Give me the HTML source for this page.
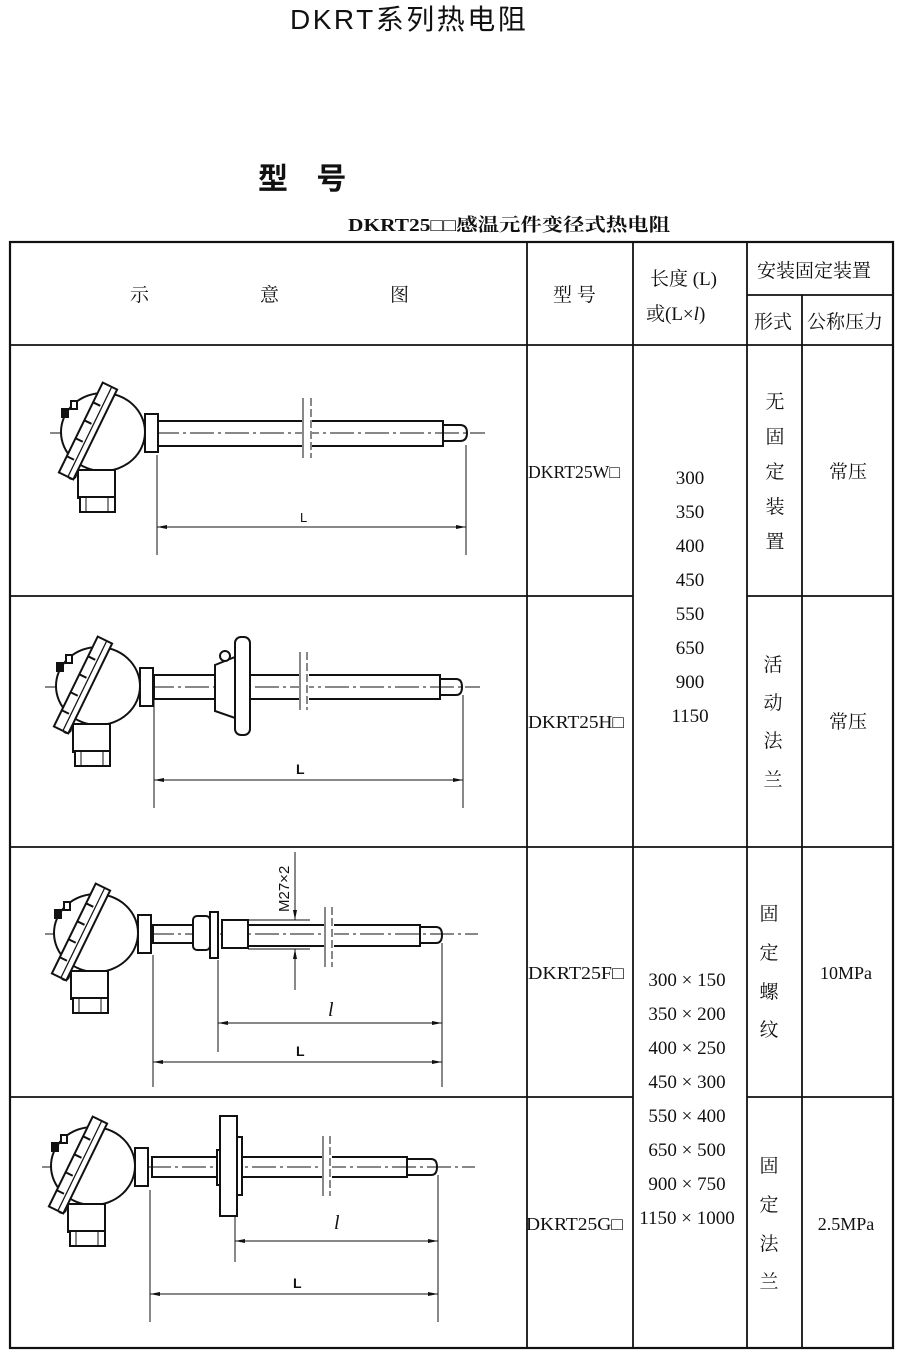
<!DOCTYPE html>
<html><head><meta charset="utf-8"><style>
body{margin:0;background:#fff;}
svg{display:block;}
text{font-family:"Liberation Serif","Noto Serif CJK SC","Noto Sans CJK SC",serif;fill:#111;}
.s{font-family:"Liberation Sans","Noto Sans CJK SC",sans-serif;}
</style></head><body>
<svg width="898" height="1359" viewBox="0 0 898 1359" xmlns="http://www.w3.org/2000/svg">
<defs>
<g id="head" stroke="#111" stroke-width="2" fill="#fff">
  <ellipse cx="103" cy="-1" rx="42" ry="39"/>
  <rect x="78" y="37" width="37" height="28"/>
  <rect x="80" y="64" width="35" height="15"/>
  <line x1="86" y1="64" x2="86" y2="79" stroke-width="1"/><line x1="108" y1="64" x2="108" y2="79" stroke-width="1"/>
  <rect x="145" y="-19" width="13" height="38"/>
  <rect x="62" y="-24" width="6" height="8" fill="#111"/>
  <rect x="71" y="-32" width="6" height="8"/>
  <circle cx="72" cy="42" r="4" fill="#111"/>
  <g transform="translate(88,-2) rotate(26)">
    <rect x="-8" y="-50" width="16" height="100"/>
    <line x1="2" y1="-50" x2="2" y2="50" stroke-width="1.2"/>
    <line x1="-8" y1="-28" x2="0" y2="-28"/><line x1="-8" y1="-8" x2="0" y2="-8"/><line x1="-8" y1="12" x2="0" y2="12"/><line x1="-8" y1="32" x2="0" y2="32"/>
  </g>
</g>
<marker id="ar" viewBox="0 0 10 4" refX="10" refY="2" markerWidth="10" markerHeight="4" orient="auto-start-reverse" markerUnits="userSpaceOnUse"><path d="M0,0L10,2L0,4z" fill="#111"/></marker>
</defs>

<text x="290" y="29" class="s" font-size="28" letter-spacing="2.5">DKRT系列热电阻</text>
<text x="258" y="189" font-size="30" font-weight="bold" class="s" letter-spacing="10">型 号</text>
<text x="348" y="231" font-size="18" font-weight="bold" textLength="322" lengthAdjust="spacingAndGlyphs">DKRT25□□感温元件变径式热电阻</text>

<g stroke="#111" fill="none">
<rect x="10" y="242" width="883" height="1106" stroke-width="2.2"/>
<line x1="527" y1="242" x2="527" y2="1348" stroke-width="1.8"/>
<line x1="633" y1="242" x2="633" y2="1348" stroke-width="1.8"/>
<line x1="747" y1="242" x2="747" y2="1348" stroke-width="1.8"/>
<line x1="802" y1="295" x2="802" y2="1348" stroke-width="1.8"/>
<line x1="747" y1="295" x2="893" y2="295" stroke-width="1.8"/>
<line x1="10" y1="345" x2="893" y2="345" stroke-width="1.8"/>
<line x1="10" y1="596" x2="633" y2="596" stroke-width="1.8"/>
<line x1="747" y1="596" x2="893" y2="596" stroke-width="1.8"/>
<line x1="10" y1="847" x2="893" y2="847" stroke-width="1.8"/>
<line x1="10" y1="1097" x2="633" y2="1097" stroke-width="1.8"/>
<line x1="747" y1="1097" x2="893" y2="1097" stroke-width="1.8"/>
</g>

<g font-size="19">
<text x="130" y="301">示</text><text x="260" y="301">意</text><text x="390" y="301">图</text>
<text x="553" y="301">型 号</text>
<text x="650" y="285">长度 (L)</text><text x="646" y="320">或(L×<tspan font-style="italic">l</tspan>)</text>
<text x="757" y="277">安装固定装置</text>
<text x="754" y="328">形式</text><text x="807" y="328">公称压力</text>
</g>

<g font-size="18">
<text x="528" y="478" textLength="92" lengthAdjust="spacingAndGlyphs">DKRT25W□</text>
<text x="528" y="728" textLength="96" lengthAdjust="spacingAndGlyphs">DKRT25H□</text>
<text x="528" y="979" textLength="96" lengthAdjust="spacingAndGlyphs">DKRT25F□</text>
<text x="526" y="1230" textLength="97" lengthAdjust="spacingAndGlyphs">DKRT25G□</text>
</g>
<g font-size="19" text-anchor="middle">
<text x="690" y="484">300</text><text x="690" y="518">350</text><text x="690" y="552">400</text><text x="690" y="586">450</text>
<text x="690" y="620">550</text><text x="690" y="654">650</text><text x="690" y="688">900</text><text x="690" y="722">1150</text>
<text x="687" y="986">300 × 150</text><text x="687" y="1020">350 × 200</text><text x="687" y="1054">400 × 250</text><text x="687" y="1088">450 × 300</text>
<text x="687" y="1122">550 × 400</text><text x="687" y="1156">650 × 500</text><text x="687" y="1190">900 × 750</text><text x="687" y="1224">1150 × 1000</text>
<text x="775" y="408">无</text><text x="775" y="443">固</text><text x="775" y="478">定</text><text x="775" y="513">装</text><text x="775" y="548">置</text>
<text x="773" y="671">活</text><text x="773" y="709">动</text><text x="773" y="747">法</text><text x="773" y="786">兰</text>
<text x="769" y="920">固</text><text x="769" y="959">定</text><text x="769" y="998">螺</text><text x="769" y="1036">纹</text>
<text x="769" y="1172">固</text><text x="769" y="1211">定</text><text x="769" y="1250">法</text><text x="769" y="1288">兰</text>
<text x="848" y="478">常压</text><text x="848" y="728">常压</text>
<text x="846" y="979" font-size="18">10MPa</text><text x="846" y="1230" font-size="18">2.5MPa</text>
</g>

<!-- Row 1 -->
<g stroke="#111" stroke-width="2" fill="#fff">
<line x1="50" y1="433" x2="485" y2="433" stroke-width="1" stroke-dasharray="24,4,3,4"/>
<use href="#head" transform="translate(0,433)"/>
<rect x="158" y="421" width="285" height="25" fill="none"/>
<path d="M443,425 H460 Q467,425 467,433 Q467,441 460,441 H443" fill="none"/>
<rect x="302" y="400" width="10" height="60" fill="#fff" stroke="none"/>
<line x1="303" y1="398" x2="303" y2="458" stroke-width="1"/><line x1="311" y1="398" x2="311" y2="458" stroke-width="1" stroke-dasharray="8,3"/>
<g stroke-width="1"><line x1="157" y1="455" x2="157" y2="555"/><line x1="466" y1="445" x2="466" y2="555"/>
<line x1="157" y1="527" x2="466" y2="527" marker-start="url(#ar)" marker-end="url(#ar)"/></g>
</g>
<text x="300" y="522" class="s" font-size="13">L</text>

<!-- Row 2 -->
<g stroke="#111" stroke-width="2" fill="#fff">
<line x1="45" y1="687" x2="480" y2="687" stroke-width="1" stroke-dasharray="24,4,3,4"/>
<use href="#head" transform="translate(-5,687)"/>
<rect x="154" y="675" width="61" height="24" fill="none"/>
<rect x="250" y="675" width="190" height="24" fill="none"/>
<path d="M215,665 L235,657 V718 L215,711 Z"/>
<circle cx="225" cy="656" r="5"/>
<rect x="235" y="637" width="15" height="98" rx="6"/>
<path d="M440,679 H456 Q462,679 462,687 Q462,695 456,695 H440" fill="none"/>
<rect x="299" y="652" width="10" height="58" fill="#fff" stroke="none"/>
<line x1="300" y1="652" x2="300" y2="710" stroke-width="1"/><line x1="307" y1="652" x2="307" y2="710" stroke-width="1" stroke-dasharray="8,3"/>
<g stroke-width="1"><line x1="154" y1="700" x2="154" y2="808"/><line x1="463" y1="695" x2="463" y2="808"/>
<line x1="154" y1="780" x2="463" y2="780" marker-start="url(#ar)" marker-end="url(#ar)"/></g>
</g>
<text x="296" y="774" class="s" font-size="14" font-weight="bold">L</text>

<!-- Row 3 -->
<g stroke="#111" stroke-width="2" fill="#fff">
<line x1="45" y1="934" x2="478" y2="934" stroke-width="1" stroke-dasharray="24,4,3,4"/>
<use href="#head" transform="translate(-7,934)"/>
<rect x="153" y="925" width="40" height="18" fill="none"/>
<rect x="193" y="916" width="17" height="34" rx="4"/>
<rect x="210" y="912" width="8" height="46"/>
<rect x="222" y="920" width="26" height="28"/>
<rect x="248" y="925" width="172" height="21" fill="none"/>
<path d="M420,927 H436 Q442,927 442,935 Q442,943 436,943 H420" fill="none"/>
<rect x="324" y="907" width="10" height="60" fill="#fff" stroke="none"/>
<line x1="325" y1="907" x2="325" y2="967" stroke-width="1"/><line x1="332" y1="907" x2="332" y2="967" stroke-width="1" stroke-dasharray="8,3"/>
<g stroke-width="1">
<line x1="248" y1="920" x2="310" y2="920"/><line x1="248" y1="949" x2="310" y2="949"/>
<line x1="295" y1="852" x2="295" y2="920" marker-end="url(#ar)"/><line x1="295" y1="990" x2="295" y2="949" marker-end="url(#ar)"/>
<line x1="153" y1="955" x2="153" y2="1087"/><line x1="218" y1="960" x2="218" y2="1052"/><line x1="442" y1="943" x2="442" y2="1087"/>
<line x1="218" y1="1023" x2="442" y2="1023" marker-start="url(#ar)" marker-end="url(#ar)"/>
<line x1="153" y1="1062" x2="442" y2="1062" marker-start="url(#ar)" marker-end="url(#ar)"/></g>
</g>
<text x="0" y="0" class="s" font-size="15" transform="translate(289,912) rotate(-90)">M27×2</text>
<text x="328" y="1016" font-size="20" font-style="italic">l</text>
<text x="296" y="1056" class="s" font-size="14" font-weight="bold">L</text>

<!-- Row 4 -->
<g stroke="#111" stroke-width="2" fill="#fff">
<line x1="42" y1="1167" x2="475" y2="1167" stroke-width="1" stroke-dasharray="24,4,3,4"/>
<use href="#head" transform="translate(-10,1167)"/>
<rect x="152" y="1157" width="66" height="20" fill="none"/>
<rect x="217" y="1150" width="5" height="35"/>
<rect x="220" y="1116" width="17" height="100"/>
<rect x="237" y="1137" width="5" height="58"/>
<rect x="242" y="1157" width="165" height="20" fill="none"/>
<path d="M407,1159 H431 Q437,1159 437,1167 Q437,1175 431,1175 H407" fill="none"/>
<rect x="322" y="1136" width="10" height="60" fill="#fff" stroke="none"/>
<line x1="323" y1="1136" x2="323" y2="1196" stroke-width="1"/><line x1="330" y1="1136" x2="330" y2="1196" stroke-width="1" stroke-dasharray="8,3"/>
<g stroke-width="1">
<line x1="150" y1="1190" x2="150" y2="1322"/><line x1="235" y1="1216" x2="235" y2="1262"/><line x1="438" y1="1175" x2="438" y2="1322"/>
<line x1="235" y1="1241" x2="438" y2="1241" marker-start="url(#ar)" marker-end="url(#ar)"/>
<line x1="150" y1="1294" x2="438" y2="1294" marker-start="url(#ar)" marker-end="url(#ar)"/></g>
</g>
<text x="334" y="1229" font-size="20" font-style="italic">l</text>
<text x="293" y="1288" class="s" font-size="14" font-weight="bold">L</text>
</svg>
</body></html>
